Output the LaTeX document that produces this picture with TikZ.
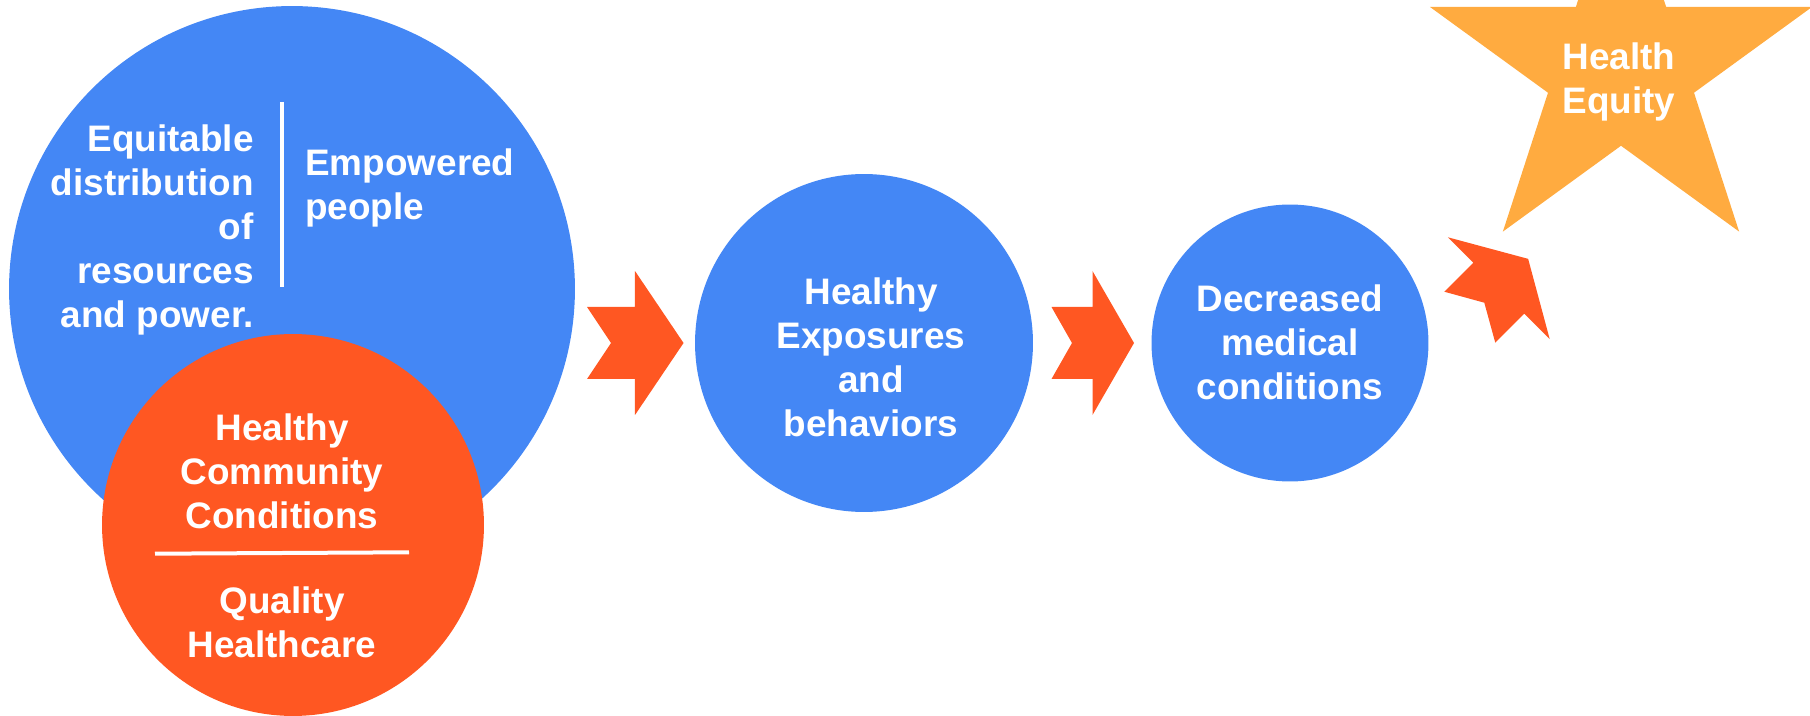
\documentclass[tikz,border=0pt]{standalone}
\usepackage{fontspec}
\setmainfont{Liberation Sans}
\usetikzlibrary{shapes.geometric}
\definecolor{ringblue}{HTML}{4487F5}
\definecolor{flame}{HTML}{FF5722}
\definecolor{goldstar}{HTML}{FFAB40}
\tikzset{
	txt/.style={text=white, font=\bfseries\fontsize{21}{25}\selectfont, inner sep=0pt},
	disc/.style={circle, fill=#1, inner sep=0pt},
	chevron/.pic={\fill [flame] (-20.5,-36) -- (20.5,-36) -- (20.5,-72) -- (62,0) -- (20.5,72) -- (20.5,36) -- (-20.5,36) -- (0,0) -- cycle;}
}
\begin{document}
\begin{tikzpicture}[x=0.02cm, y=-0.02cm]
		\useasboundingbox (0,0) rectangle (1810,716);
		% circles
		\node [disc=ringblue, minimum size=11.32cm] (rights) at (292,289) {};
		\node [disc=flame, minimum size=7.64cm] (care) at (293,525) {};
		\node [disc=ringblue, minimum size=6.76cm] (habits) at (864,343) {};
		\node [disc=ringblue, minimum size=5.54cm] (illness) at (1290,343) {};
		\node [star, star points=5, star point ratio=2.618, fill=goldstar, minimum size=8.04cm, inner sep=0pt] (goal) at (1621,69) {};
		% dividers
		\draw [white, line width=0.07cm] (282,102) -- (282,287);
		\draw [white, line width=0.08cm] (155,553.7) -- (409,552.3);
		% arrows
		\pic [xscale=1.17] at (611,343) {chevron};
		\pic at (1072,343) {chevron};
		\pic [rotate=45] at (1484.3,302.7) {chevron};
		% texts
		\node [txt, align=right, anchor=east] (fair) at (254,230) {Equitable\\distribution\\of\\resources\\and power.};
		\node [txt, align=left, anchor=west] (people) at (305,188) {Empowered\\people};
		\node [txt, align=center] (community) at (282,471) {Healthy\\Community\\Conditions};
		\node [txt, align=center] (quality) at (282,622) {Quality\\Healthcare};
		\node [txt, align=center] (exposure) at (871,357.5) {Healthy\\Exposures\\and\\behaviors};
		\node [txt, align=center] (fewer) at (1290,342) {Decreased\\medical\\conditions};
		\node [txt, align=center] (equity) at (1619,82) {Health\\Equity};
	\end{tikzpicture}
\end{document}
